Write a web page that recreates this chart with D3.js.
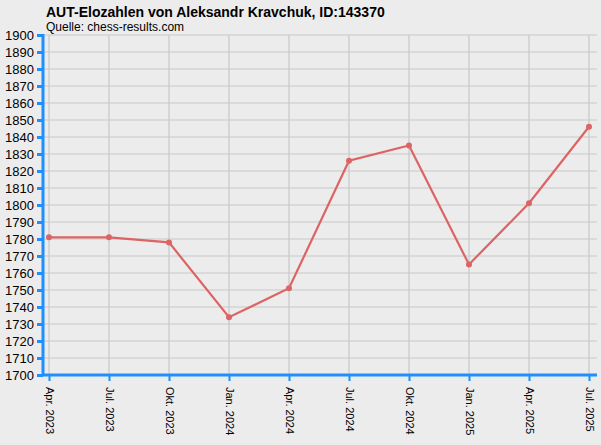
<!DOCTYPE html>
<html>
<head>
<meta charset="utf-8">
<script src="https://cdn.jsdelivr.net/npm/d3@7"></script>
<style>
  body { margin: 0; background: #ececec; }
  svg { display: block; font-family: "Liberation Sans", Arial, sans-serif; }
</style>
</head>
<body>
<div id="chart"></div>
<script>
// data
const months = ["Apr. 2023", "Jul. 2023", "Okt. 2023", "Jan. 2024", "Apr. 2024",
                "Jul. 2024", "Okt. 2024", "Jan. 2025", "Apr. 2025", "Jul. 2025"]
const elo = [1781, 1781, 1778, 1734, 1751, 1826, 1835, 1765, 1801, 1846]
const yTicks = d3.range(1700, 1901, 10)

const width = 601, height = 445
const plot = { left: 44, right: 597, top: 35, bottom: 375 }

const svg = d3.select("#chart").append("svg")
    .attr("width", width)
    .attr("height", height)

svg.append("rect").attr("width", width).attr("height", height).attr("fill", "#ececec")

const x = d3.scalePoint().domain(months).range([49, 589])
const y = d3.scaleLinear().domain([1700, 1900]).range([plot.bottom, plot.top])

//grid
svg.append("g").selectAll("line.h")
    .data(yTicks).enter().append("line")
    .attr("x1", plot.left).attr("x2", plot.right)
    .attr("y1", d => y(d)).attr("y2", d => y(d))
    .attr("stroke", "#c8c8c8").attr("stroke-width", 1.2)

svg.append("g").selectAll("line.v")
    .data(months).enter().append("line")
    .attr("x1", d => x(d)).attr("x2", d => x(d))
    .attr("y1", plot.top).attr("y2", plot.bottom)
    .attr("stroke", "#c8c8c8").attr("stroke-width", 1.2)

// y axis
const yAxis = svg.append("g")
    .attr("transform", "translate(" + (plot.left - 1) + ",0)")
    .call(d3.axisLeft(y).tickValues(yTicks).tickFormat(d3.format("d")).tickSize(6).tickPadding(3))
yAxis.select(".domain").attr("stroke", "#1e8fff").attr("stroke-width", 3)
    .attr("d", "M0," + (plot.top - 1) + "V" + (plot.bottom + 1))
yAxis.selectAll(".tick line").attr("stroke", "#1e8fff").attr("stroke-width", 3)
yAxis.selectAll(".tick text").attr("fill", "#000").style("font-size", "13px")

// x axis
const xAxis = svg.append("g")
    .attr("transform", "translate(0," + plot.bottom + ")")
    .call(d3.axisBottom(x).tickSize(6).tickPadding(0))
xAxis.select(".domain").attr("stroke", "#1e8fff").attr("stroke-width", 3)
    .attr("d", "M" + (plot.left - 2) + ",0H" + plot.right)
xAxis.selectAll(".tick line").attr("stroke", "#1e8fff").attr("stroke-width", 2)
xAxis.selectAll(".tick text")
    .attr("fill", "#000")
    .style("font-size", "11px")
    .attr("text-anchor", "start")
    .attr("dy", "0.35em")
    .attr("transform", "translate(0,12) rotate(90)")
    .attr("x", 0).attr("y", 0)

// line + points
const line = d3.line()
    .x((d, i) => x(months[i]))
    .y(d => y(d))

svg.append("path")
    .datum(elo)
    .attr("fill", "none")
    .attr("stroke", "#dc6464")
    .attr("stroke-width", 2.2)
    .attr("d", line)

svg.append("g").selectAll("circle")
    .data(elo).enter().append("circle")
    .attr("cx", (d, i) => x(months[i]))
    .attr("cy", d => y(d))
    .attr("r", 3)
    .attr("fill", "#dc6464")

// titles
svg.append("text")
    .attr("x", 46).attr("y", 17)
    .style("font-size", "14px").style("font-weight", "bold")
    .text("AUT-Elozahlen von Aleksandr Kravchuk, ID:143370")

svg.append("text")
    .attr("x", 46).attr("y", 31)
    .style("font-size", "12px")
    .text("Quelle: chess-results.com")
</script>
</body>
</html>
